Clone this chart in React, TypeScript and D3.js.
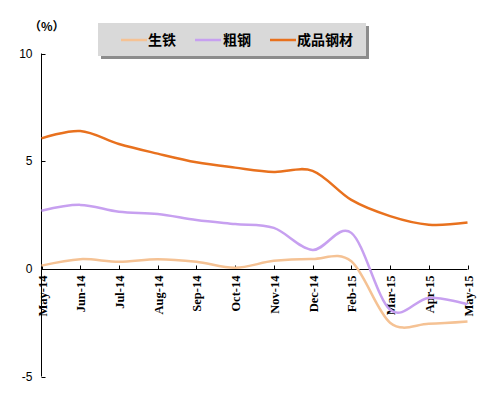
import React from "react";
import * as d3 from "d3";

const categories = ["May-14", "Jun-14", "Jul-14", "Aug-14", "Sep-14", "Oct-14", "Nov-14", "Dec-14", "Feb-15", "Mar-15", "Apr-15", "May-15"];
const pigIron = [0.15, 0.45, 0.33, 0.45, 0.33, 0.05, 0.37, 0.46, 0.35, -2.5, -2.55, -2.45];
const crudeSteel = [2.7, 2.97, 2.65, 2.55, 2.27, 2.08, 1.9, 0.88, 1.67, -1.9, -1.35, -1.65];
const finishedSteel = [6.06, 6.4, 5.8, 5.35, 4.95, 4.7, 4.5, 4.55, 3.2, 2.45, 2.05, 2.15];
const yTicks = [10, 5, 0, -5];
const seriesNames = ["生铁", "粗钢", "成品钢材"];
const seriesColors = ["#f5c294", "#c7a0f0", "#e8711e"];

export default function App() {
  const W = 482, H = 397;
  const x0 = 41.5, x1 = 467.5;
  const x = d3.scalePoint<string>().domain(categories).range([x0, x1]);
  const y = d3.scaleLinear().domain([-5, 10]).range([376.5, 53.5]);
  const series = [pigIron, crudeSteel, finishedSteel];
  const line = d3
    .line<number>()
    .x((_, i) => x(categories[i]) as number)
    .y((d) => y(d))
    .curve(d3.curveCatmullRom.alpha(0));

  const legendItems = [
    { lx: 121, tx: 148 },
    { lx: 195, tx: 223 },
    { lx: 270, tx: 297 },
  ];

  return (
    <div style={{ position: "absolute", left: 0, top: 0 }}>
      <svg width={W} height={H} style={{ display: "block", background: "#fff" }}>
        {/* unit label */}
        <text x={29} y={31} fontFamily="'Noto Sans CJK SC', sans-serif" fontWeight="bold" fontSize={12} fill="#000">
          （%）
        </text>

        {/* legend */}
        <rect x={101} y={26} width={268} height={33} fill="#8c8c8c" />
        <rect x={98} y={23} width={268} height={33} fill="#d9d9d9" />
        {legendItems.map((it, i) => (
          <g key={seriesNames[i]}>
            <line x1={it.lx} x2={it.lx + 26} y1={40} y2={40} stroke={seriesColors[i]} strokeWidth={2.5} />
            <text
              x={it.tx}
              y={45}
              fontFamily="'Noto Sans CJK SC', sans-serif"
              fontWeight="bold"
              fontSize={14}
              fill="#000"
            >
              {seriesNames[i]}
            </text>
          </g>
        ))}

        {/* y axis */}
        <line x1={x0} x2={x0} y1={y(10)} y2={y(-5)} stroke="#000" strokeWidth={1} />
        {yTicks.map((t) => (
          <g key={t}>
            <line x1={x0} x2={x0 + 4} y1={Math.round(y(t)) + 0.5} y2={Math.round(y(t)) + 0.5} stroke="#000" />
            <text
              x={x0 - 9}
              y={y(t)}
              dy="0.35em"
              textAnchor="end"
              fontFamily="'Liberation Sans', Arial, sans-serif"
              fontSize={12}
              fill="#000"
            >
              {t}
            </text>
          </g>
        ))}

        {/* x axis */}
        <line x1={x0} x2={x1} y1={Math.round(y(0)) + 0.5} y2={Math.round(y(0)) + 0.5} stroke="#000" />
        {categories.map((c) => {
          const cx = Math.round(x(c) as number) + 0.5;
          const ay = Math.round(y(0)) + 0.5;
          return (
            <g key={c}>
              <line x1={cx} x2={cx} y1={ay} y2={ay - 4} stroke="#000" />
              <text
                transform={`translate(${cx},${ay + 6}) rotate(-90)`}
                dy="0.35em"
                textAnchor="end"
                fontFamily="'Liberation Serif', 'Times New Roman', serif"
                fontWeight="bold"
                fontSize={12.5}
                fill="#000"
              >
                {c}
              </text>
            </g>
          );
        })}

        {/* series */}
        {series.map((s, i) => (
          <path key={seriesNames[i]} d={line(s) || ""} fill="none" stroke={seriesColors[i]} strokeWidth={2.5} strokeLinejoin="round" />
        ))}
      </svg>
    </div>
  );
}
